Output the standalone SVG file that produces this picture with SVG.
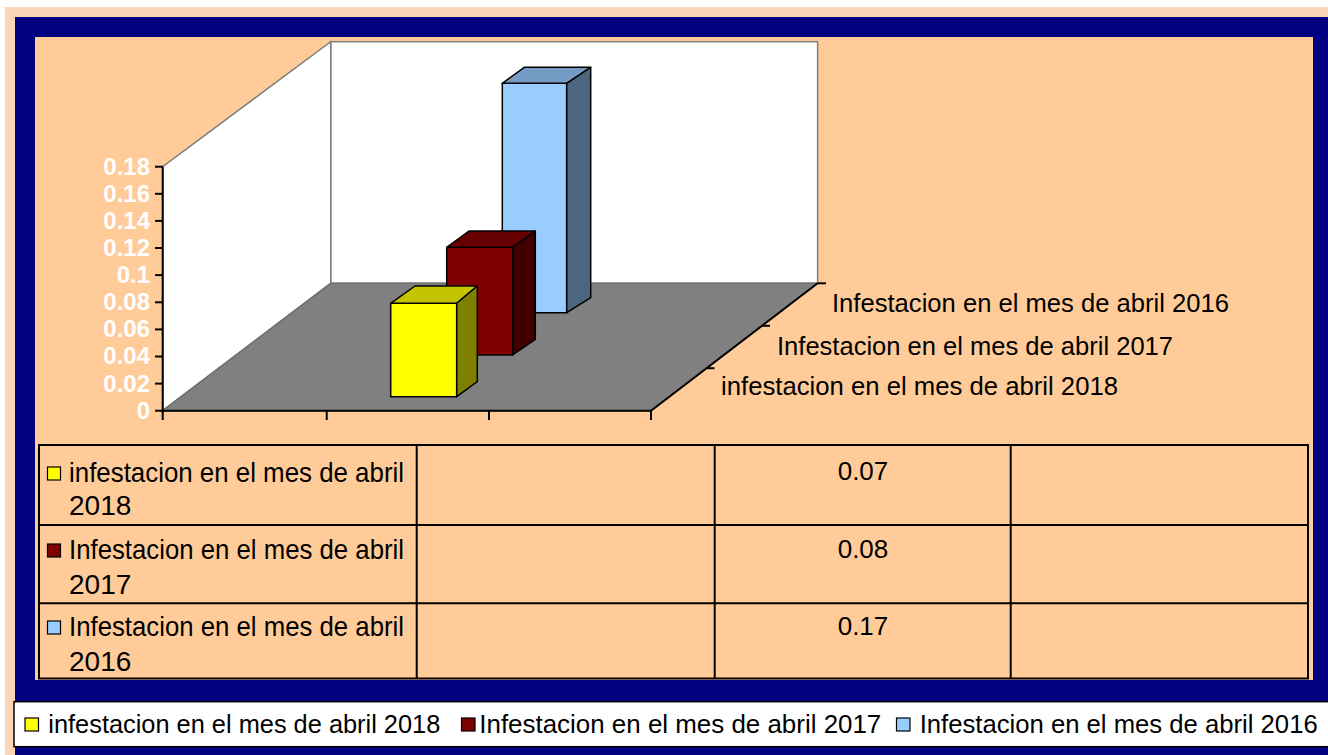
<svg xmlns="http://www.w3.org/2000/svg" width="1328" height="755" viewBox="0 0 1328 755">
<style>
text{font-family:"Liberation Sans",Arial,sans-serif;fill:#000}
.ax{font-size:24px;font-weight:bold;fill:#fff;text-anchor:end}
.cat{font-size:25px}
.tb{font-size:28px}
.val{font-size:26px;text-anchor:middle}
.lg{font-size:26px}
.grid{stroke:#808080;stroke-width:1.5;fill:#fff}
.blk{stroke:#000;stroke-width:2;fill:none}
.bar{stroke:#000;stroke-width:1.5;stroke-linejoin:round}
.sw{stroke:#000;stroke-width:1.2}
</style>
<rect x="0" y="0" width="1328" height="755" fill="#fff"/>
<rect x="5" y="7" width="1323" height="748" fill="#FBD5B5"/>
<rect x="15" y="17" width="1313" height="738" fill="#000080"/>
<rect x="35" y="37" width="1278" height="643" fill="#FFCC99"/>

<g id="walls">
<rect class="grid" x="330.7" y="41.7" width="486.9" height="241.6"/>
<polygon class="grid" points="162.7,166.7 330.7,41.7 330.7,283.3 162.7,410.7"/>
<polygon points="162.7,410.7 330.7,283.3 817.6,283.3 651,410.7" fill="#808080" stroke="#707070" stroke-width="1.5"/>
</g>

<g id="axes">
<line class="blk" x1="162.7" y1="166.7" x2="162.7" y2="413"/>
<line class="blk" x1="155" y1="166.7" x2="162.7" y2="166.7"/>
<line class="blk" x1="155" y1="193.8" x2="162.7" y2="193.8"/>
<line class="blk" x1="155" y1="220.9" x2="162.7" y2="220.9"/>
<line class="blk" x1="155" y1="248" x2="162.7" y2="248"/>
<line class="blk" x1="155" y1="275.1" x2="162.7" y2="275.1"/>
<line class="blk" x1="155" y1="302.3" x2="162.7" y2="302.3"/>
<line class="blk" x1="155" y1="329.4" x2="162.7" y2="329.4"/>
<line class="blk" x1="155" y1="356.5" x2="162.7" y2="356.5"/>
<line class="blk" x1="155" y1="383.6" x2="162.7" y2="383.6"/>
<line class="blk" x1="155" y1="410.7" x2="162.7" y2="410.7"/>
<line class="blk" x1="162.7" y1="410.7" x2="651" y2="410.7"/>
<line class="blk" x1="162.7" y1="410.7" x2="162.7" y2="420"/>
<line class="blk" x1="326.7" y1="410.7" x2="326.7" y2="420"/>
<line class="blk" x1="489" y1="410.7" x2="489" y2="420"/>
<line class="blk" x1="651" y1="410.7" x2="651" y2="420"/>
<line class="blk" x1="651" y1="410.7" x2="817.6" y2="283.3"/>
<line class="blk" x1="706.5" y1="368.2" x2="714.5" y2="368.2"/>
<line class="blk" x1="762" y1="325.8" x2="770" y2="325.8"/>
<line class="blk" x1="817.6" y1="283.3" x2="826" y2="283.3"/>
<text class="ax" x="150" y="175">0.18</text>
<text class="ax" x="150" y="202">0.16</text>
<text class="ax" x="150" y="229">0.14</text>
<text class="ax" x="150" y="256">0.12</text>
<text class="ax" x="150" y="283">0.1</text>
<text class="ax" x="150" y="310">0.08</text>
<text class="ax" x="150" y="337">0.06</text>
<text class="ax" x="150" y="364">0.04</text>
<text class="ax" x="150" y="392">0.02</text>
<text class="ax" x="150" y="419">0</text>
<text class="cat" x="832" y="312" textLength="397" lengthAdjust="spacingAndGlyphs">Infestacion en el mes de abril 2016</text>
<text class="cat" x="777" y="355" textLength="396" lengthAdjust="spacingAndGlyphs">Infestacion en el mes de abril 2017</text>
<text class="cat" x="721" y="395" textLength="397" lengthAdjust="spacingAndGlyphs">infestacion en el mes de abril 2018</text>
</g>

<g id="bar-2016">
<polygon class="bar" fill="#99CCFF" points="502.3,83.3 566.7,83.3 566.7,312.7 502.3,312.7"/>
<polygon class="bar" fill="#749CC4" points="502.3,83.3 524.3,67.3 590.7,67.3 566.7,83.3"/>
<polygon class="bar" fill="#4C667F" points="566.7,83.3 590.7,67.3 590.7,297.7 566.7,312.7"/>
</g>
<g id="bar-2017">
<polygon class="bar" fill="#800000" points="446.7,247.3 512.7,247.3 512.7,355 446.7,355"/>
<polygon class="bar" fill="#660000" points="446.7,247.3 469,231 535.3,231 512.7,247.3"/>
<polygon class="bar" fill="#400000" points="512.7,247.3 535.3,231 535.3,339.3 512.7,355"/>
</g>
<g id="bar-2018">
<polygon class="bar" fill="#FFFF00" points="390.7,303.3 456.7,303.3 456.7,396.7 390.7,396.7"/>
<polygon class="bar" fill="#C4C400" points="390.7,303.3 415,286 477.3,286 456.7,303.3"/>
<polygon class="bar" fill="#808000" points="456.7,303.3 477.3,286 477.3,381.7 456.7,396.7"/>
</g>

<g id="data-table">
<rect x="39" y="445" width="1269" height="233.5" fill="none" stroke="#000" stroke-width="2"/>
<line class="blk" x1="39" y1="525" x2="1308" y2="525"/>
<line class="blk" x1="39" y1="603.3" x2="1308" y2="603.3"/>
<line class="blk" x1="416.7" y1="445" x2="416.7" y2="678.5"/>
<line class="blk" x1="714.7" y1="445" x2="714.7" y2="678.5"/>
<line class="blk" x1="1010.7" y1="445" x2="1010.7" y2="678.5"/>
<rect class="sw" x="47.5" y="467" width="13" height="13" fill="#FFFF00"/>
<rect class="sw" x="47.5" y="544" width="13" height="13" fill="#800000"/>
<rect class="sw" x="47.5" y="621" width="13" height="13" fill="#99CCFF"/>
<text class="tb" x="69" y="482" textLength="335" lengthAdjust="spacingAndGlyphs">infestacion en el mes de abril</text>
<text class="tb" x="69" y="515">2018</text>
<text class="tb" x="69" y="558.5" textLength="335" lengthAdjust="spacingAndGlyphs">Infestacion en el mes de abril</text>
<text class="tb" x="69" y="593.5">2017</text>
<text class="tb" x="69" y="636" textLength="335" lengthAdjust="spacingAndGlyphs">Infestacion en el mes de abril</text>
<text class="tb" x="69" y="671">2016</text>
<text class="val" x="863" y="479.5">0.07</text>
<text class="val" x="863" y="557.5">0.08</text>
<text class="val" x="863" y="635">0.17</text>
</g>

<g id="legend">
<rect x="14" y="701.7" width="1320" height="45" fill="#fff" stroke="#000" stroke-width="1.5"/>
<rect class="sw" x="25" y="718" width="13.5" height="13" fill="#FFFF00"/>
<text class="lg" x="48.3" y="733.3" textLength="392" lengthAdjust="spacingAndGlyphs">infestacion en el mes de abril 2018</text>
<rect class="sw" x="461.5" y="718" width="13.5" height="13" fill="#800000"/>
<text class="lg" x="479.3" y="733.3" textLength="402" lengthAdjust="spacingAndGlyphs">Infestacion en el mes de abril 2017</text>
<rect class="sw" x="896.5" y="718" width="13.5" height="13" fill="#99CCFF"/>
<text class="lg" x="919.7" y="733.3" textLength="398" lengthAdjust="spacingAndGlyphs">Infestacion en el mes de abril 2016</text>
</g>
</svg>
